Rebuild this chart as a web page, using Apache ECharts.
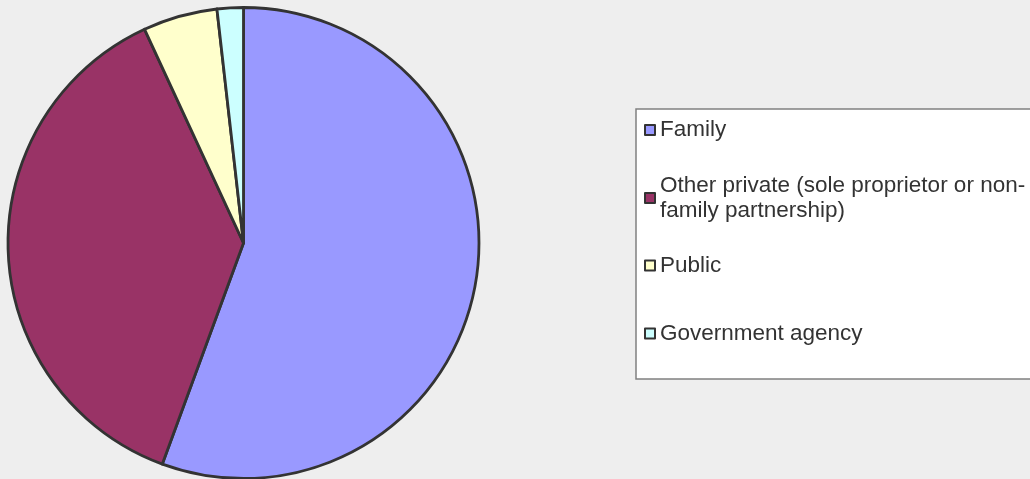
<!DOCTYPE html>
<html>
<head>
<meta charset="utf-8">
<script src="https://cdn.jsdelivr.net/npm/echarts@6/dist/echarts.min.js"></script>
<style>
html,body{margin:0;padding:0;background:#eeeeee;}
#chart{width:1030px;height:479px;}
</style>
</head>
<body>
<div id="chart"></div>
<script>
var categories = ['Family', 'Other private (sole proprietor or non-family partnership)', 'Public', 'Government agency'];
var legendLabels = ['Family', 'Other private (sole proprietor or non-\nfamily partnership)', 'Public', 'Government agency'];
var values = [55.6, 37.5, 5.1, 1.8];
var colors = ['#9999FF', '#993366', '#FFFFCC', '#CCFFFF'];

var chart = echarts.init(document.getElementById('chart'));
var legendTops = [117.5, 160.5, 253, 321];
var legends = categories.map(function (name, i) {
  return {
    orient: 'vertical',
    left: 644,
    top: legendTops[i],
    padding: 0,
    itemWidth: 10,
    itemHeight: 10,
    icon: 'rect',
    data: [name],
    formatter: function () { return legendLabels[i]; },
    itemStyle: { borderColor: '#333333', borderWidth: 2 },
    textStyle: {
      fontFamily: 'Liberation Sans, Arial, sans-serif',
      fontSize: 22.5,
      lineHeight: 25,
      color: '#333333',
      padding: i === 1 ? [25, 0, 0, 0] : 0
    }
  };
});

chart.setOption({
  backgroundColor: '#eeeeee',
  animation: false,
  graphic: [{
    type: 'rect',
    z: -1,
    shape: { x: 636, y: 109, width: 420, height: 270 },
    style: { fill: '#ffffff', stroke: '#808080', lineWidth: 1.5 }
  }],
  legend: legends,
  series: [{
    type: 'pie',
    center: [243.5, 243],
    radius: 235.5,
    startAngle: 90,
    clockwise: true,
    label: { show: false },
    labelLine: { show: false },
    emphasis: { disabled: true },
    itemStyle: { borderColor: '#333333', borderWidth: 2.8 },
    data: categories.map(function (name, i) {
      return { name: name, value: values[i], itemStyle: { color: colors[i] } };
    })
  }]
});
</script>
</body>
</html>
